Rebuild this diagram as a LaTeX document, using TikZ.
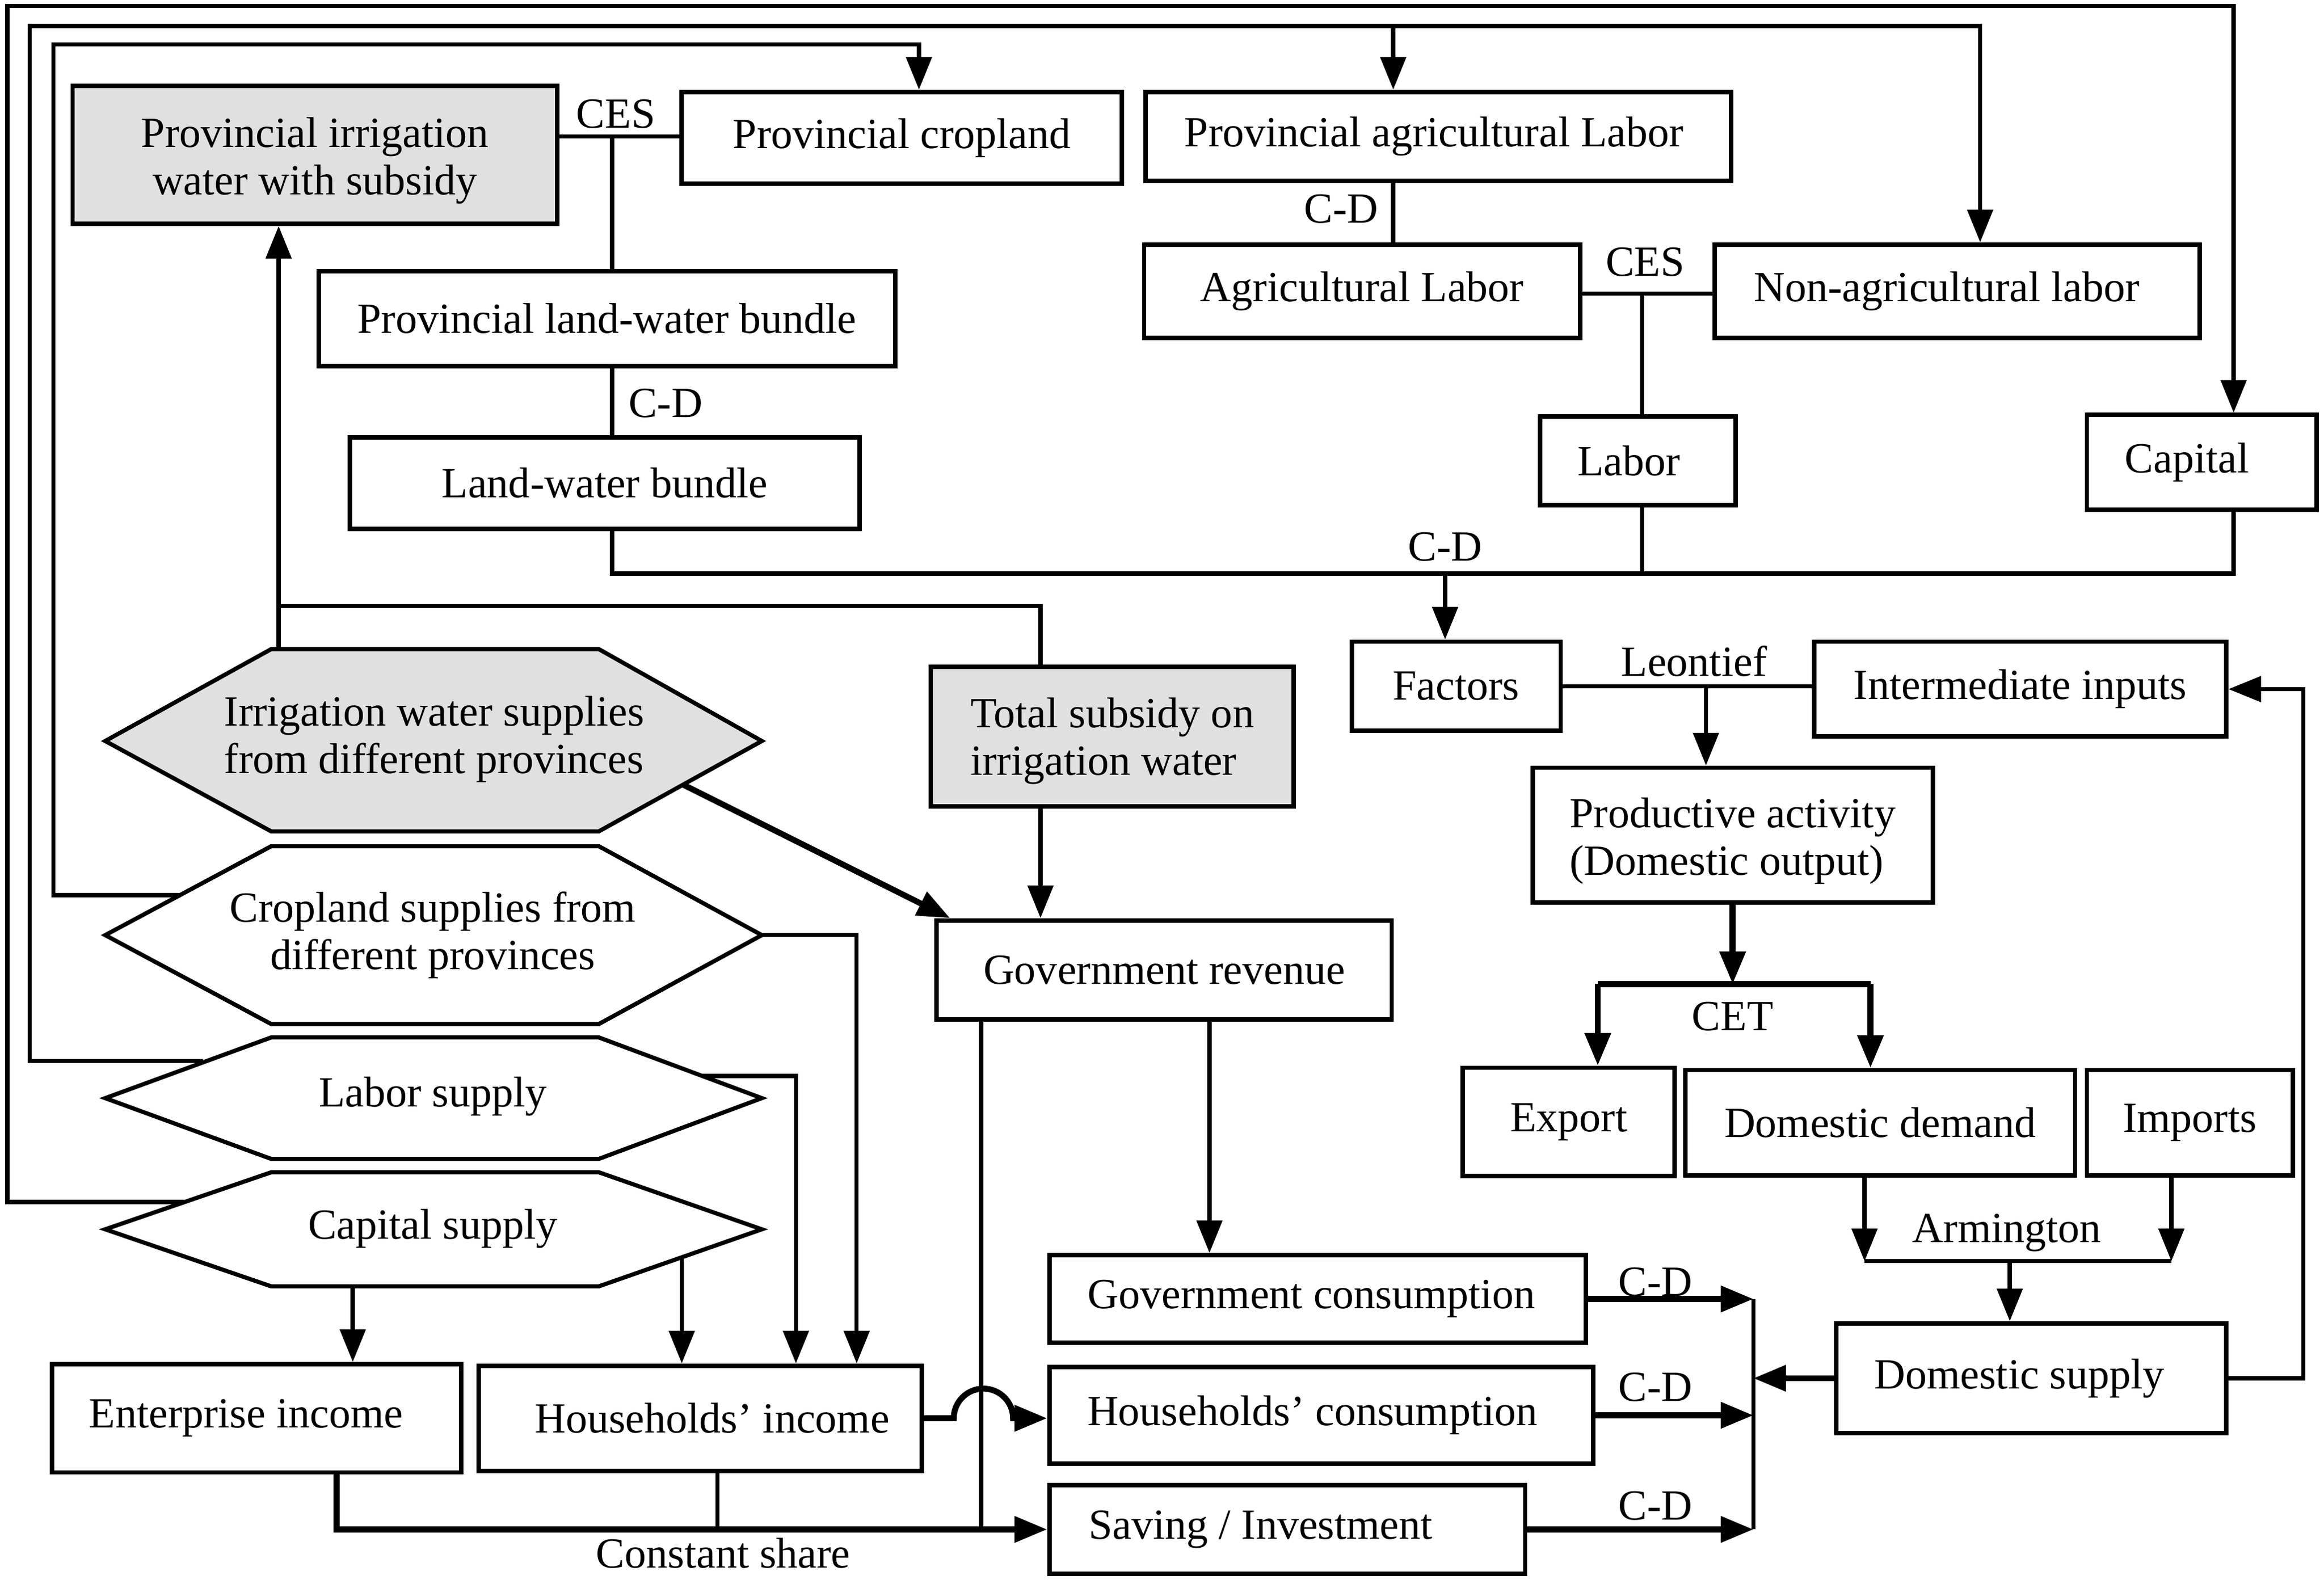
\documentclass[tikz,border=0pt]{standalone}
\usepackage{fontspec}
\setmainfont{Liberation Serif}
\usetikzlibrary{arrows.meta,calc}
\definecolor{boxgray}{RGB}{224,224,224}
\begin{document}
\begin{tikzpicture}[x=1pt,y=-1pt,
  every node/.style={font=\fontsize{29}{32}\selectfont, align=center},
  box/.style={draw, line width=3pt, inner sep=0pt, align=center},
  graybox/.style={box, fill=boxgray},
  ln/.style={line width=2.8pt},
  tk/.style={line width=4pt},
  hexa/.style={line width=2.8pt},
  arr/.style={-{Triangle[length=22pt,width=17pt]}},
  lbl/.style={inner sep=0pt}
]
\useasboundingbox (0,0) rectangle (1568,1068.6);

% ---------- boxes ----------
\node[graybox, minimum width=327pt, minimum height=93pt] (pirr) at (212.5,104.5) {\rule{0pt}{28pt}Provincial irrigation\\water with subsidy};
\node[box, minimum width=297pt, minimum height=62pt] (pcrop) at (608.5,93) {Provincial cropland};
\node[box, minimum width=395pt, minimum height=60pt] (pagl) at (970.5,92) {Provincial agricultural Labor\hspace{6pt}};
\node[box, minimum width=294pt, minimum height=63pt] (agl) at (919,196.5) {Agricultural Labor};
\node[box, minimum width=327pt, minimum height=63pt] (nagl) at (1320.5,196.5) {Non-agricultural labor\hspace{14pt}};
\node[box, minimum width=389pt, minimum height=64pt] (plwb) at (409.5,215) {Provincial land-water bundle};
\node[box, minimum width=344pt, minimum height=62pt] (lwb) at (408,326) {Land-water bundle};
\node[box, minimum width=132pt, minimum height=60pt] (labor) at (1105,311) {Labor\hspace{12pt}};
\node[box, minimum width=155pt, minimum height=64pt] (capital) at (1485.5,312) {Capital\hspace{20pt}};
\node[box, minimum width=141pt, minimum height=60pt] (factors) at (982.5,463) {Factors};
\node[box, minimum width=278pt, minimum height=64pt] (inter) at (1363,465) {Intermediate inputs};
\node[box, minimum width=270pt, minimum height=91pt, align=left] (prod) at (1169,563.5) {\rule{0pt}{28pt}Productive activity\\(Domestic output)};
\node[box, minimum width=143pt, minimum height=73pt] (export) at (1058.5,757) {Export};
\node[box, minimum width=263pt, minimum height=71pt] (ddem) at (1268.5,757.5) {Domestic demand};
\node[box, minimum width=139pt, minimum height=71pt] (imports) at (1477.5,757.5) {Imports};
\node[box, minimum width=263pt, minimum height=74pt] (dsup) at (1370.5,930) {Domestic supply\hspace{16pt}};
\node[graybox, minimum width=245pt, minimum height=94pt, align=left] (tsub) at (750.5,497) {\rule{0pt}{26pt}Total subsidy on\\irrigation water};
\node[box, minimum width=307pt, minimum height=67pt] (grev) at (785.5,654.5) {Government revenue};
\node[box, minimum width=362pt, minimum height=59pt] (gcons) at (889,876.5) {Government consumption\hspace{8pt}};
\node[box, minimum width=367pt, minimum height=65pt] (hcons) at (891.5,955) {Households’ consumption\hspace{12pt}};
\node[box, minimum width=321pt, minimum height=60pt] (sav) at (868.5,1032) {Saving / Investment\hspace{36pt}};
\node[box, minimum width=276pt, minimum height=73pt] (ent) at (173,957) {Enterprise income\hspace{14pt}};
\node[box, minimum width=299pt, minimum height=71pt] (hinc) at (472.5,957) {\hspace{16pt}Households’ income};

% ---------- hexagons ----------
\draw[hexa, fill=boxgray] (71,500) -- (183,438) -- (404,438) -- (514,500) -- (404,561) -- (183,561) -- cycle;
\node[align=left] (h1) at (293,499) {Irrigation water supplies\\from different provinces};
\draw[hexa] (71,631) -- (183,571) -- (404,571) -- (514,631) -- (404,691) -- (183,691) -- cycle;
\node[align=center] (h2) at (292,631) {Cropland supplies from\\different provinces};
\draw[hexa] (71,741) -- (183,700) -- (404,700) -- (514,741) -- (404,782) -- (183,782) -- cycle;
\node (h3) at (292,740) {Labor supply};
\draw[hexa] (71,829.5) -- (183,791) -- (404,791) -- (514,829.5) -- (404,868) -- (183,868) -- cycle;
\node (h4) at (292,829) {Capital supply};

% connection points on hexagons
\coordinate (h4ul) at (124,811);
\coordinate (h3ul) at (137,716);
\coordinate (h2ul) at (122,604);
\coordinate (h1t) at (188,438);
\coordinate (w1) at (188,409);
\coordinate (h1r) at (461,529.5);
\coordinate (h2r) at (514,631);
\coordinate (h3r) at (474,726);
\coordinate (h4r) at (460,848);
\coordinate (h4b) at (238,868);

% ---------- outer feedback loops ----------
\draw[ln,arr] (h4ul) -- (5,811) -- (5,4) -| ([xshift=21.5pt]capital.north);
\draw[ln,arr] (h3ul) -- (20,716) -- (20,17.5) -| ([xshift=15.5pt]nagl.north);
\draw[ln,arr] (940,17.5) -- ([xshift=-30.5pt]pagl.north);
\draw[ln,arr] (h2ul) -- (36,604) -- (36,30) -| ([xshift=11.5pt]pcrop.north);

% ---------- irrigation water ----------
\draw[ln,arr] (h1t) -- (pirr.south -| h1t);
\draw[ln] (w1) -| ([xshift=-48.5pt]tsub.north);
\draw[ln,arr] ([xshift=-48.5pt]tsub.south) -- ([xshift=-83.5pt]grev.north);
\draw[tk,arr] (h1r) -- ([xshift=-144.5pt]grev.north);

% ---------- supplies to incomes ----------
\draw[ln,arr] (h2r) -| ([xshift=105.5pt]hinc.north);
\draw[ln,arr] (h3r) -| ([xshift=64.5pt]hinc.north);
\draw[ln,arr] (h4r) -- ([xshift=-12.5pt]hinc.north);
\draw[ln,arr] (h4b) -- (ent.north -| h4b);

% ---------- government ----------
\draw[ln,arr] ([xshift=30.5pt]grev.south) -- ([xshift=-73pt]gcons.north);
\coordinate (gsv) at (662,1032);
\draw[ln] ([xshift=-123.5pt]grev.south) -- (gsv);

% ---------- incomes to saving / consumption ----------
\coordinate (ents) at (227,1032);
\draw[tk,arr] ([xshift=54pt]ent.south) -- (ents) -- (sav.west);
\coordinate (hins) at (484,1032);
\draw[ln] ([xshift=11.5pt]hinc.south) -- (hins);
\draw[tk,arr] (hinc.east) -- ++(20,0) arc[start angle=180,end angle=0,radius=20pt] -- (hcons.west |- hinc.east);
\node[lbl] (cshare) at (488,1048) {Constant share};

% ---------- final demand ----------
\coordinate (bar1) at (1183,876.5);
\draw[tk,arr] (gcons.east) -- (bar1);
\draw[tk,arr] (hcons.east) -- (hcons.east -| bar1);
\draw[tk,arr] (sav.east) -- (sav.east -| bar1);
\draw[ln] (bar1) -- (sav.east -| bar1);
\draw[tk,arr] (dsup.west) -- (dsup.west -| bar1);
\node[lbl] (cd5) at (1117,865) {C-D};
\node[lbl] (cd6) at (1117,936) {C-D};
\node[lbl] (cd7) at (1117,1016) {C-D};

% ---------- top nesting ----------
\coordinate (ces1) at (413,92);
\draw[ln] (pirr.east |- ces1) -- (pcrop.west |- ces1);
\draw[ln] (ces1) -- (plwb.north -| ces1);
\node[lbl] (lces1) at (415.5,77) {CES};
\draw[ln] (plwb.south -| ces1) -- (lwb.north -| ces1);
\node[lbl] (cd1) at (449,272) {C-D};

\draw[ln] ([xshift=-30.5pt]pagl.south) -- ([xshift=21pt]agl.north);
\node[lbl] (cd2) at (905,141) {C-D};
\coordinate (ces2) at (1108,198);
\draw[ln] (agl.east |- ces2) -- (nagl.west |- ces2);
\draw[ln] (ces2) -- (labor.north -| ces2);
\node[lbl] (lces2) at (1110,177) {CES};

\coordinate (cdrow) at (975,387);
\coordinate (capb) at (1507,387);
\draw[ln] (lwb.south -| ces1) -- (ces1 |- cdrow) -- (capb) -- ([xshift=21.5pt]capital.south);
\draw[ln] (labor.south -| ces2) -- (ces2 |- cdrow);
\draw[ln,arr] (cdrow) -- (factors.north -| cdrow);
\node[lbl] (cd3) at (975,369) {C-D};

% ---------- production ----------
\coordinate (leo) at (1151,463);
\draw[ln] (factors.east) -- (inter.west |- factors.east);
\draw[ln,arr] (leo) -- (prod.north -| leo);
\node[lbl] (lleo) at (1143,446) {Leontief};

\coordinate (cet) at (1169,664);
\coordinate (cetl) at (1078,664);
\coordinate (cetr) at (1262,664);
\draw[tk,arr] (prod.south) -- (cet);
\draw[tk] (cetl) -- (cetr);
\draw[tk,arr] (cetl) -- (export.north -| cetl);
\draw[tk,arr] (cetr) -- (ddem.north -| cetr);
\node[lbl] (lcet) at (1169,686) {CET};

\coordinate (arml) at (1258,851);
\coordinate (armr) at (1465,851);
\coordinate (armc) at (1356,851);
\draw[ln,arr] (ddem.south -| arml) -- (arml);
\draw[ln,arr] (imports.south -| armr) -- (armr);
\draw[ln] (arml) -- (armr);
\draw[ln,arr] (armc) -- (dsup.north -| armc);
\node[lbl] (larm) at (1354,832) {Armington};

\coordinate (fbx) at (1554,930);
\draw[ln,arr] (dsup.east) -- (fbx) |- (inter.east);
\end{tikzpicture}
\end{document}
